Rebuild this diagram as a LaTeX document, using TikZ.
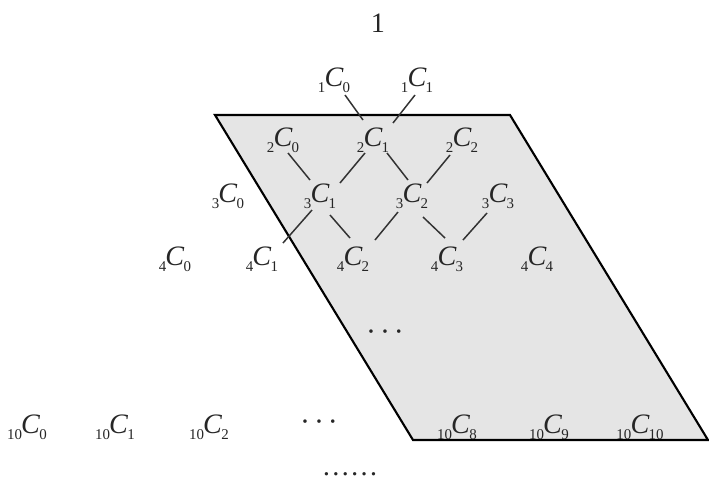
\documentclass[tikz,border=0pt]{standalone}
\usepackage{fontspec}
\setmainfont{Liberation Serif}
\newcommand{\subnum}[1]{\raisebox{-0.45ex}{\fontsize{8.5}{9}\selectfont #1}}
\newcommand{\bc}[2]{\subnum{#1}\kern-0.5pt\textit{C}\kern-0.5pt\subnum{#2}}
\newcommand{\mdots}{·\hspace{2.2pt}·\hspace{2.2pt}·}
\begin{document}
\begin{tikzpicture}[x=0.02cm,y=-0.02cm,
  lbl/.style={inner sep=0pt,text=black!85,font=\fontsize{16}{18}\selectfont},
  dotlbl/.style={inner sep=0pt,text=black!85,font=\fontsize{17}{18}\selectfont},
  edge/.style={black!80,line width=0.85pt},
  frame/.style={draw=black,line width=1.2pt,fill=black!10,line join=miter}]
\useasboundingbox (0,0) rectangle (709,484);
% parallelogram
\coordinate (p1) at (215,115);
\coordinate (p2) at (510,115);
\coordinate (p3) at (708,440);
\coordinate (p4) at (413,440);
\draw[frame] (p1) -- (p2) -- (p3) -- (p4) -- cycle;
% labels
\node[lbl] (top) at (378,23) {1};
\node[lbl] (c10) at (334,80) {\bc{1}{0}};
\node[lbl] (c11) at (417,80) {\bc{1}{1}};
\node[lbl] (c20) at (283,140) {\bc{2}{0}};
\node[lbl] (c21) at (373,140) {\bc{2}{1}};
\node[lbl] (c22) at (462,140) {\bc{2}{2}};
\node[lbl] (c30) at (228,196) {\bc{3}{0}};
\node[lbl] (c31) at (320,196) {\bc{3}{1}};
\node[lbl] (c32) at (412,196) {\bc{3}{2}};
\node[lbl] (c33) at (498,196) {\bc{3}{3}};
\node[lbl] (c40) at (175,259) {\bc{4}{0}};
\node[lbl] (c41) at (262,259) {\bc{4}{1}};
\node[lbl] (c42) at (353,259) {\bc{4}{2}};
\node[lbl] (c43) at (447,259) {\bc{4}{3}};
\node[lbl] (c44) at (537,259) {\bc{4}{4}};
\node[dotlbl] (dm) at (385,336) {\mdots};
\node[lbl] (c100) at (27,427) {\bc{10}{0}};
\node[lbl] (c101) at (115,427) {\bc{10}{1}};
\node[lbl] (c102) at (209,427) {\bc{10}{2}};
\node[dotlbl] (db) at (319,426) {\mdots};
\node[lbl] (c108) at (457,427) {\bc{10}{8}};
\node[lbl] (c109) at (549,427) {\bc{10}{9}};
\node[lbl] (c1010) at (640,427) {\bc{10}{10}};
\node[lbl] (dl) at (350,474) {\ldots\ldots};
% edges
\draw[edge] ([shift={(11,15)}]c10.center) -- ([shift={(-10,-20)}]c21.center);
\draw[edge] ([shift={(-2,15)}]c11.center) -- ([shift={(20,-17)}]c21.center);
\draw[edge] ([shift={(5,13)}]c20.center) -- ([shift={(-10,-16)}]c31.center);
\draw[edge] ([shift={(-8,13)}]c21.center) -- ([shift={(20,-13)}]c31.center);
\draw[edge] ([shift={(14,13)}]c21.center) -- ([shift={(-4,-16)}]c32.center);
\draw[edge] ([shift={(-12,15)}]c22.center) -- ([shift={(15,-13)}]c32.center);
\draw[edge] ([shift={(-8,14)}]c31.center) -- ([shift={(21,-16)}]c41.center);
\draw[edge] ([shift={(10,19)}]c31.center) -- ([shift={(-3,-21)}]c42.center);
\draw[edge] ([shift={(-14,16)}]c32.center) -- ([shift={(22,-19)}]c42.center);
\draw[edge] ([shift={(11,21)}]c32.center) -- ([shift={(-2,-21)}]c43.center);
\draw[edge] ([shift={(-11,17)}]c33.center) -- ([shift={(16,-19)}]c43.center);
\end{tikzpicture}
\end{document}
